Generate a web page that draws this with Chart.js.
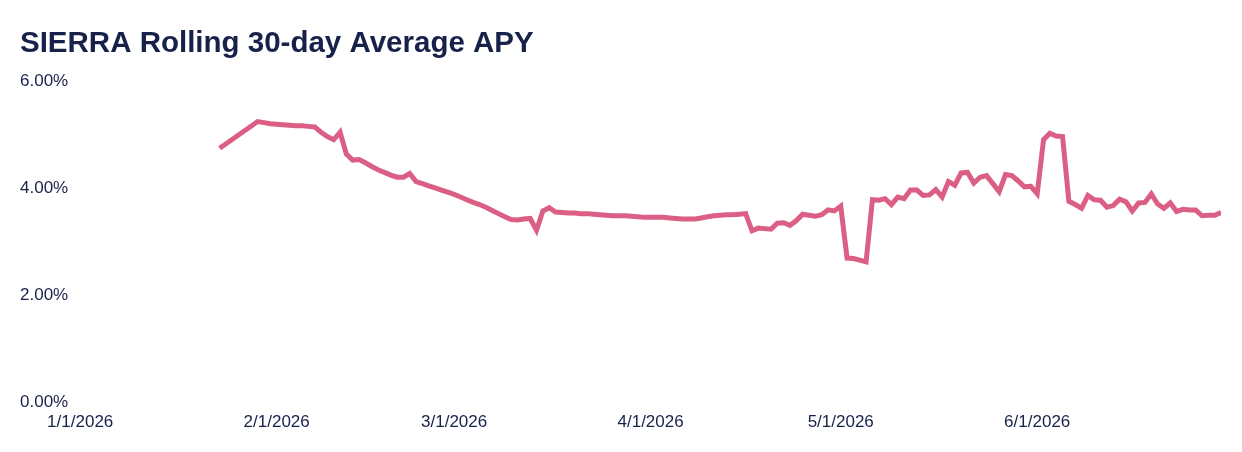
<!DOCTYPE html>
<html lang="en">
<head>
    <meta charset="UTF-8">
    <title>SIERRA Rolling 30-day Average APY</title>
    <script src="https://cdn.jsdelivr.net/npm/chart.js"></script>
    <style>
        html, body { margin: 0; padding: 0; background: #ffffff; }
        #wrap { width: 1242px; height: 452px; position: relative; }
    </style>
</head>
<body>
    <div id="wrap"><canvas id="apyChart"></canvas></div>
    <script>
        // dates of the observations (month/day, year 2026)
        const dates = [
            '1/23', '1/29', '1/30', '1/31',
            '2/1', '2/2', '2/3', '2/4', '2/5', '2/6', '2/7', '2/8', '2/9', '2/10',
            '2/11', '2/12', '2/13', '2/14', '2/15', '2/16', '2/17', '2/18', '2/19', '2/20',
            '2/21', '2/22', '2/23', '2/24', '2/25', '2/26', '2/27', '2/28',
            '3/1', '3/2', '3/3', '3/4', '3/5', '3/6', '3/7', '3/8', '3/9', '3/10',
            '3/11', '3/12', '3/13', '3/14', '3/15', '3/16', '3/17', '3/18', '3/19', '3/20',
            '3/21', '3/22', '3/23', '3/24', '3/25', '3/26', '3/27', '3/28', '3/29', '3/30', '3/31',
            '4/1', '4/2', '4/3', '4/4', '4/5', '4/6', '4/7', '4/8', '4/9', '4/10',
            '4/11', '4/12', '4/13', '4/14', '4/15', '4/16', '4/17', '4/18', '4/19', '4/20',
            '4/21', '4/22', '4/23', '4/24', '4/25', '4/26', '4/27', '4/28', '4/29', '4/30',
            '5/1', '5/2', '5/3', '5/4', '5/5', '5/6', '5/7', '5/8', '5/9', '5/10',
            '5/11', '5/12', '5/13', '5/14', '5/15', '5/16', '5/17', '5/18', '5/19', '5/20',
            '5/21', '5/22', '5/23', '5/24', '5/25', '5/26', '5/27', '5/28', '5/29', '5/30', '5/31',
            '6/1', '6/2', '6/3', '6/4', '6/5', '6/6', '6/7', '6/8', '6/9', '6/10',
            '6/11', '6/12', '6/13', '6/14', '6/15', '6/16', '6/17', '6/18', '6/19', '6/20',
            '6/21', '6/22', '6/23', '6/24', '6/25', '6/26', '6/27', '6/28', '6/29', '6/30'
        ];

        // rolling 30-day average APY in %
        const apy = [
            4.75, 5.25, 5.23, 5.21,
            5.20, 5.19, 5.18, 5.17, 5.17, 5.16, 5.15, 5.05, 4.97, 4.91,
            5.05, 4.64, 4.53, 4.54, 4.48, 4.41, 4.35, 4.30, 4.25, 4.21,
            4.21, 4.28, 4.13, 4.09, 4.05, 4.01, 3.97, 3.93,
            3.89, 3.84, 3.79, 3.74, 3.70, 3.65, 3.59, 3.53, 3.47, 3.42,
            3.41, 3.43, 3.44, 3.22, 3.58, 3.64, 3.56, 3.55, 3.54, 3.54,
            3.53, 3.53, 3.52, 3.51, 3.50, 3.49, 3.49, 3.49, 3.48, 3.47, 3.46,
            3.46, 3.46, 3.46, 3.45, 3.44, 3.43, 3.43, 3.43, 3.45, 3.47,
            3.49, 3.50, 3.51, 3.51, 3.52, 3.53, 3.21, 3.26, 3.25, 3.24,
            3.35, 3.36, 3.31, 3.40, 3.52, 3.50, 3.48, 3.51, 3.60, 3.58,
            3.67, 2.70, 2.69, 2.66, 2.63, 3.79, 3.78, 3.81, 3.70, 3.84,
            3.81, 3.97, 3.97, 3.87, 3.88, 3.98, 3.84, 4.13, 4.06, 4.29,
            4.30, 4.10, 4.21, 4.24, 4.09, 3.94, 4.26, 4.24, 4.14, 4.03, 4.04,
            3.90, 4.91, 5.03, 4.98, 4.97, 3.76, 3.70, 3.63, 3.87, 3.79,
            3.78, 3.65, 3.68, 3.80, 3.75, 3.58, 3.73, 3.74, 3.90, 3.71,
            3.63, 3.73, 3.57, 3.61, 3.60, 3.60, 3.49, 3.50, 3.50, 3.55
        ];

        // x axis ticks (first day of each month) and y axis ticks
        const monthTicks = ['1/1/2026', '2/1/2026', '3/1/2026', '4/1/2026', '5/1/2026', '6/1/2026'];
        const yTicks = [0, 2, 4, 6];

        const YEAR = 2026;
        const DAY = 86400000;
        const jan1 = Date.UTC(YEAR, 0, 1);

        // days since 1/1/2026
        function dayOf(md) {
            const p = md.split('/');
            return Math.round((Date.UTC(YEAR, parseInt(p[0]) - 1, parseInt(p[1])) - jan1) / DAY);
        }

        const points = dates.map((d, i) => ({ x: dayOf(d), y: apy[i] }));
        const tickDays = monthTicks.map(t => dayOf(t.split('/').slice(0, 2).join('/')));

        const navy = '#18214a';
        const font = '"Liberation Sans", Arial, Helvetica, sans-serif';

        new Chart(document.getElementById('apyChart').getContext('2d'), {
            type: 'line',
            data: {
                datasets: [{
                    label: 'APY',
                    data: points,
                    borderColor: '#db5f84',
                    borderWidth: 5,
                    pointRadius: 0,
                    tension: 0,
                    fill: false
                }]
            },
            options: {
                responsive: true,
                maintainAspectRatio: false,
                animation: false,
                layout: { padding: { left: 20, right: 21, top: 0, bottom: 9 } },
                plugins: {
                    legend: { display: false },
                    tooltip: { enabled: false },
                    title: {
                        display: true,
                        text: 'SIERRA Rolling 30-day Average APY',
                        align: 'start',
                        color: navy,
                        font: { family: font, size: 29.5, weight: 'bold' },
                        padding: { top: 26, bottom: 20 }
                    }
                },
                scales: {
                    x: {
                        type: 'linear',
                        min: 0,
                        max: dayOf('6/30'),
                        grid: { display: false, drawTicks: false },
                        border: { display: false },
                        afterBuildTicks: axis => {
                            axis.ticks = tickDays.map(v => ({ value: v }));
                        },
                        ticks: {
                            autoSkip: false,
                            maxRotation: 0,
                            padding: 10,
                            color: navy,
                            font: { family: font, size: 17 },
                            callback: v => monthTicks[tickDays.indexOf(v)]
                        }
                    },
                    y: {
                        min: 0,
                        max: 6,
                        grid: { display: false, drawTicks: false },
                        border: { display: false },
                        afterBuildTicks: axis => {
                            axis.ticks = yTicks.map(v => ({ value: v }));
                        },
                        ticks: {
                            padding: 6,
                            crossAlign: 'far',
                            color: navy,
                            font: { family: font, size: 17 },
                            callback: v => v.toFixed(2) + '%'
                        }
                    }
                }
            }
        });
    </script>
</body>
</html>
